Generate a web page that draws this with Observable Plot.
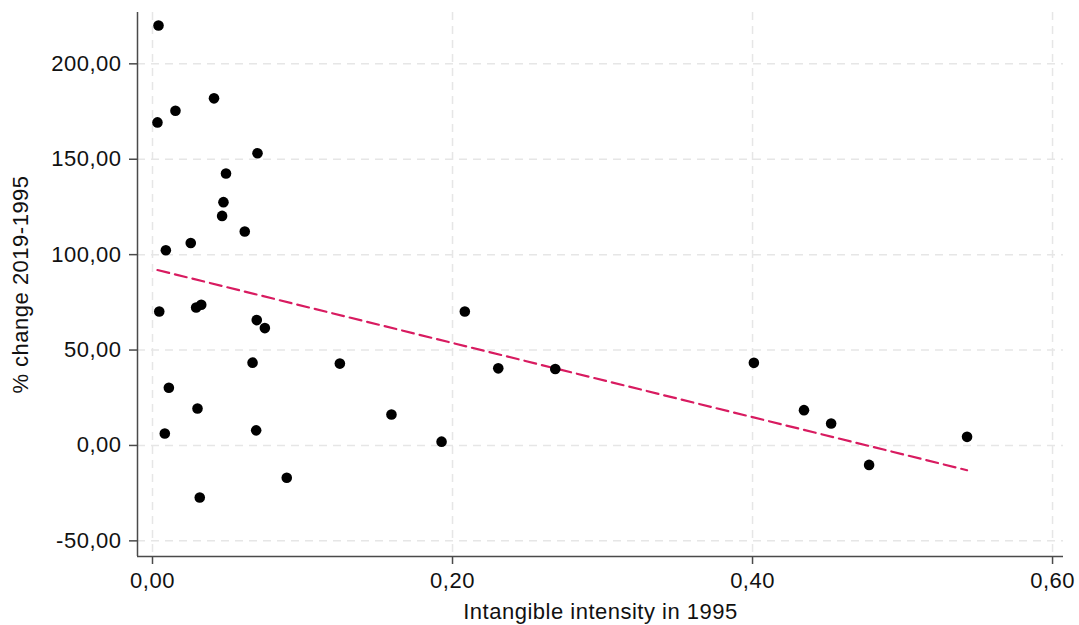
<!DOCTYPE html>
<html>
<head>
<meta charset="utf-8">
<script src="https://cdn.jsdelivr.net/npm/d3@7"></script>
<script src="https://cdn.jsdelivr.net/npm/@observablehq/plot@0.6"></script>
<style>
  html, body { margin: 0; padding: 0; background: #fff; }
  #chart svg { display: block; }
  #chart svg text { letter-spacing: 0.5px; }
</style>
</head>
<body>
<div id="chart"></div>
<script>
// Intangible intensity in 1995 (x) and % change 2019-1995 (y)
const intensity = [
  0.0040, 0.0033, 0.0153, 0.0410, 0.0700, 0.0490, 0.0473, 0.0464, 0.0615, 0.0255,
  0.0089, 0.0045, 0.0291, 0.0325, 0.0695, 0.0749, 0.0667, 0.1249, 0.0109, 0.0300,
  0.0082, 0.0691, 0.0895, 0.0315, 0.1593, 0.1927, 0.2082, 0.2305, 0.2685, 0.4009,
  0.4343, 0.4524, 0.4777, 0.5430
];
const change = [
  220.1, 169.3, 175.4, 181.9, 153.1, 142.5, 127.5, 120.3, 112.1, 106.1,
  102.3, 70.2, 72.3, 73.7, 65.7, 61.5, 43.4, 42.9, 30.2, 19.4,
  6.3, 7.9, -16.9, -27.3, 16.2, 2.0, 70.2, 40.4, 40.1, 43.3,
  18.5, 11.5, -10.2, 4.5
];
const xTicks = [0, 0.2, 0.4, 0.6];
const yTicks = [-50, 0, 50, 100, 150, 200];
const xDomain = [-0.01, 0.6073];
const yDomain = [-58.2, 226.9];
const xLabel = "Intangible intensity in 1995";
const yLabel = "% change 2019-1995";

const data = intensity.map((x, i) => ({x, y: change[i]}));
const fmt = d => d3.format(".2f")(d).replace(".", ",").replace("−", "-");

const font = "'Liberation Sans', Arial, Helvetica, sans-serif";
const axisColor = "#4a4a4a";
const textColor = "#111";
const gridStyle = {stroke: "#e6e6e6", strokeOpacity: 1, strokeWidth: 1.5, strokeDasharray: "8,6"};

const chart = Plot.plot({
  width: 1079,
  height: 625,
  marginLeft: 137,
  marginRight: 16,
  marginTop: 12,
  marginBottom: 69,
  style: {fontFamily: font, fontSize: "22px", color: textColor, background: "#fff"},
  x: {domain: xDomain, ticks: xTicks},
  y: {domain: yDomain, ticks: yTicks},
  marks: [
    Plot.gridX(xTicks, gridStyle),
    Plot.gridY(yTicks, gridStyle),
    Plot.ruleX([xDomain[0]], {stroke: axisColor, strokeWidth: 1.5}),
    Plot.ruleY([yDomain[0]], {stroke: axisColor, strokeWidth: 1.5}),
    Plot.axisX(xTicks, {tickFormat: fmt, tickSize: 8, tickPadding: 8, fontSize: 22, stroke: axisColor, strokeWidth: 1.5, fill: textColor, label: null}),
    Plot.axisY(yTicks, {tickFormat: fmt, tickSize: 8, tickPadding: 8, fontSize: 22, stroke: axisColor, strokeWidth: 1.5, fill: textColor, label: null}),
    Plot.linearRegressionY(data, {x: "x", y: "y", ci: 0, stroke: "#d81b60", strokeWidth: 2.2, strokeDasharray: "12,6"}),
    Plot.dot(data, {x: "x", y: "y", r: 5.3, fill: "#000", stroke: "none"}),
    Plot.text([xLabel], {frameAnchor: "bottom", dy: 55, fontSize: 22, fill: textColor, lineAnchor: "middle", textAnchor: "middle"}),
    Plot.text([yLabel], {frameAnchor: "left", dx: -117, rotate: -90, fontSize: 22, fill: textColor, lineAnchor: "middle", textAnchor: "middle"})
  ]
});
document.getElementById("chart").appendChild(chart);
</script>
</body>
</html>
